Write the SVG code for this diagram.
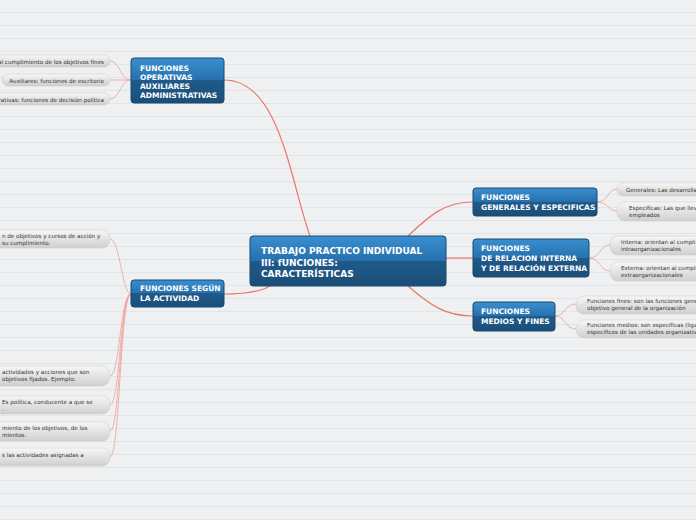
<svg xmlns="http://www.w3.org/2000/svg" width="696" height="520" viewBox="0 0 696 520">
<defs>
<pattern id="bg" width="696" height="13" patternUnits="userSpaceOnUse"><rect width="696" height="13" fill="#eef0f1"/><line x1="0" y1="12.5" x2="696" y2="12.5" stroke="#e1e5e8" stroke-width="1"/></pattern>
<linearGradient id="nb" x1="0" y1="0" x2="0" y2="1"><stop offset="0" stop-color="#3a8fd0"/><stop offset="0.5" stop-color="#2670ad"/><stop offset="0.5" stop-color="#1f5a8a"/><stop offset="1" stop-color="#1b4e78"/></linearGradient>
<linearGradient id="lb" x1="0" y1="0" x2="0" y2="1"><stop offset="0" stop-color="#f7f7f7"/><stop offset="1" stop-color="#cfcfcf"/></linearGradient>
<style>
.n rect{fill:url(#nb);stroke:#184a72;stroke-width:1}
.n text{fill:#fff;font:bold 7.5px "DejaVu Sans",sans-serif}
.c text{fill:#fff;font:bold 9px "DejaVu Sans",sans-serif}
.l rect{fill:url(#lb);stroke:#c8c8c8;stroke-width:0.5}
.l text{fill:#333;font:5.6px "DejaVu Sans",sans-serif}
#conn path{fill:none;stroke:#e9776a;stroke-width:1.2}
#conn path.t{stroke:#ef9f97;stroke-width:0.8}
</style>
</defs>
<rect width="696" height="520" fill="url(#bg)"/>
<g id="conn">
<path d="M310 236 C290 180 280 80 224 80"/>
<path d="M270 286 C260 292 245 294 224 294"/>
<path d="M408 236 C430 215 445 202 473 202"/>
<path d="M446 258 L473 258"/>
<path d="M408 286 C430 305 445 316 473 316"/>
<path class="t" d="M131 80 C120 80 120 61 110 61"/>
<path class="t" d="M131 80 L110 80"/>
<path class="t" d="M131 80 C120 80 120 99 110 99"/>
<path class="t" d="M131 294 C122 294 120 239 110 239"/>
<path class="t" d="M131 294 C120 294 120 376 110 376"/>
<path class="t" d="M131 294 C120 294 120 405 110 405"/>
<path class="t" d="M131 294 C120 294 120 431 110 431"/>
<path class="t" d="M131 294 C120 294 120 457 110 457"/>
<path class="t" d="M597 202 C608 202 608 189 617 189"/>
<path class="t" d="M597 202 C608 202 608 211 617 211"/>
<path class="t" d="M589 258 C600 258 600 245 610 245"/>
<path class="t" d="M589 258 C600 258 600 271 610 271"/>
<path class="t" d="M555 316 C565 316 565 304 576 304"/>
<path class="t" d="M555 316 C565 316 565 329 576 329"/>
</g>
<g id="center" class="n c"><rect x="250" y="236" width="196" height="50" rx="3"/><text x="261" y="254">TRABAJO PRACTICO INDIVIDUAL</text><text x="261" y="265.5">III: fUNCIONES:</text><text x="261" y="277">CARACTERÍSTICAS</text></g>
<g id="operativas" class="n"><rect x="131" y="58" width="93" height="45" rx="3"/><text x="140" y="71">FUNCIONES</text><text x="140" y="80">OPERATIVAS</text><text x="140" y="89">AUXILIARES</text><text x="140" y="98">ADMINISTRATIVAS</text></g>
<g id="segun" class="n"><rect x="131" y="280" width="93" height="27" rx="3"/><text x="140" y="291">FUNCIONES SEGÚN</text><text x="140" y="301">LA ACTIVIDAD</text></g>
<g id="generales" class="n"><rect x="473" y="188" width="124" height="28" rx="3"/><text x="481" y="200">FUNCIONES</text><text x="481" y="210">GENERALES Y ESPECIFICAS</text></g>
<g id="relacion" class="n"><rect x="473" y="239" width="116" height="38" rx="3"/><text x="481" y="251">FUNCIONES</text><text x="481" y="261">DE RELACION INTERNA</text><text x="481" y="271">Y DE RELACIÓN EXTERNA</text></g>
<g id="medios" class="n"><rect x="473" y="302" width="82" height="29" rx="3"/><text x="481" y="314">FUNCIONES</text><text x="481" y="324">MEDIOS Y FINES</text></g>
<g id="l1" class="l"><rect x="-20" y="55" width="130" height="12" rx="6"/><text x="104" y="63.5" text-anchor="end">al cumplimiento de los objetivos fines</text></g>
<g id="l2" class="l"><rect x="2" y="74" width="108" height="12" rx="6"/><text x="104" y="82.5" text-anchor="end">Auxiliares: funciones de escritorio</text></g>
<g id="l3" class="l"><rect x="-20" y="93" width="130" height="12" rx="6"/><text x="104" y="101.5" text-anchor="end">rativas: funciones de decisión política</text></g>
<g id="l4" class="l"><rect x="-20" y="230" width="130" height="18" rx="8"/><text x="2" y="237.5">n de objetivos y cursos de acción y</text><text x="2" y="244.5">  su cumplimiento.</text></g>
<g id="l5" class="l"><rect x="-20" y="366" width="130" height="20" rx="9"/><text x="2" y="374">actividades y acciones que son</text><text x="2" y="381">  objetivos fijados. Ejemplo:</text></g>
<g id="l6" class="l"><rect x="-20" y="396" width="130" height="18" rx="8"/><text x="2" y="404">Es política, conducente a que se</text><text x="2" y="411">.</text></g>
<g id="l7" class="l"><rect x="-20" y="422" width="130" height="19" rx="8"/><text x="2" y="430">miento de los objetivos, de los</text><text x="2" y="437">mientos.</text></g>
<g id="l8" class="l"><rect x="-20" y="448" width="130" height="18" rx="8"/><text x="2" y="457">s las actividades asignadas a</text></g>
<g id="r1" class="l"><rect x="617" y="183" width="100" height="13" rx="6"/><text x="626" y="191.5">Generales: Las desarrolla</text></g>
<g id="r2" class="l"><rect x="617" y="202" width="100" height="19" rx="8"/><text x="629" y="210">Especificas: Las que lleva</text><text x="629" y="217">empleados</text></g>
<g id="r3" class="l"><rect x="610" y="236" width="100" height="19" rx="8"/><text x="621" y="243.5">Interna: orientan al cumpli</text><text x="621" y="250.5">intraorganizacionales</text></g>
<g id="r4" class="l"><rect x="610" y="262" width="100" height="19" rx="8"/><text x="621" y="269.5">Externa: orientan al cumpli</text><text x="621" y="276.5">extraorganizacionales</text></g>
<g id="r5" class="l"><rect x="576" y="296" width="130" height="18" rx="8"/><text x="587" y="303">Funciones fines: son las funciones gene</text><text x="587" y="310">objetivo general de la organización</text></g>
<g id="r6" class="l"><rect x="576" y="320" width="130" height="18" rx="8"/><text x="587" y="327">Funciones medios: son especificas (liga</text><text x="587" y="334">especificos de las unidades organizativa</text></g>
</svg>
